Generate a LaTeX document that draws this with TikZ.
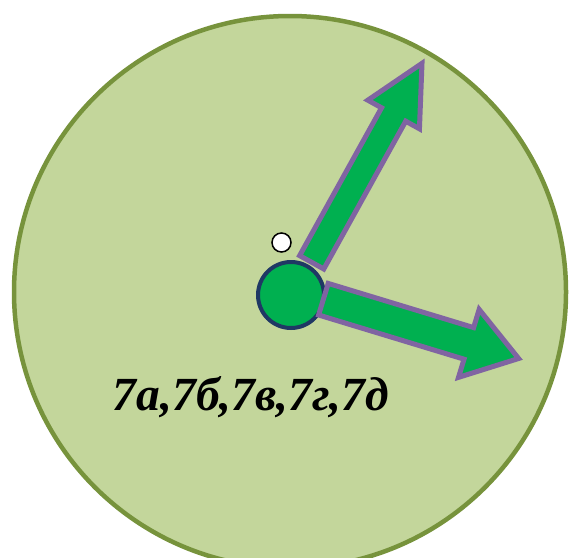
\documentclass[tikz,border=0pt]{standalone}
\usepackage{fontspec}
\setmainfont{Liberation Serif}
\usepackage{xcolor}
\usepackage{tikz}
\usetikzlibrary{positioning}
\definecolor{discfill}{HTML}{C3D69B}
\definecolor{discline}{HTML}{77933C}
\definecolor{hubgreen}{HTML}{00B050}
\definecolor{hubline}{HTML}{1F3864}
\definecolor{arrline}{HTML}{8064A2}

\begin{document}
\begin{tikzpicture}[
  x=1pt, y=-1pt,
  disc/.style={circle, draw=discline, fill=discfill, line width=4.5pt,
               minimum size=552pt, inner sep=0pt},
  hub/.style={circle, draw=hubline, fill=hubgreen, line width=4pt,
              minimum size=66pt, inner sep=0pt},
  dot/.style={circle, draw=black, fill=white, line width=1.5pt,
              minimum size=19pt, inner sep=0pt},
  blockarrow/.style={draw=arrline, fill=hubgreen, line width=5pt, miter limit=10},
  label/.style={font=\bfseries\itshape\fontsize{47.5}{52}\selectfont, inner sep=0pt}
]
\useasboundingbox (0,0) rectangle (569,557);
\node[disc] (disc) at (290,292) {};
\node[hub] (hub) at (291,295) {};
% the two block arrows leave the hub
\draw[blockarrow, shift={(311.7,262.3)}, rotate=61]
  (0,-13.8) -- (169,-13.8) -- (169,-29.5) -- (227.5,0)
  -- (169,29.5) -- (169,13.8) -- (0,13.8) -- cycle;
\draw[blockarrow, shift={(323.4,299.2)}, rotate=-16.9]
  (0,-16.5) -- (152,-16.5) -- (152,-35.5) -- (204,0)
  -- (152,35.5) -- (152,16.5) -- (0,16.5) -- cycle;
\node[dot] (pin) at (281.5,242.5) {};
\node[label, anchor=base] (classes) at (251,410) {7а,7б,7в,7г,7д};
\end{tikzpicture}
\end{document}
